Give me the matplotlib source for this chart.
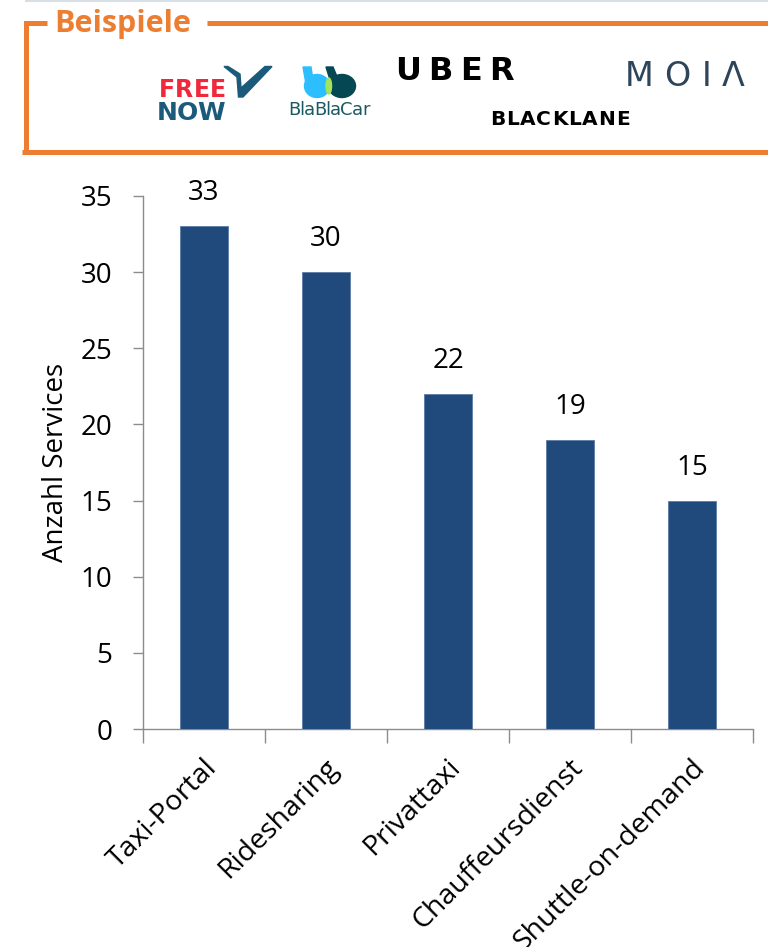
import matplotlib
matplotlib.use("Agg")
import matplotlib.pyplot as plt
from matplotlib.patches import Ellipse, Polygon

# Data
categories = ["Taxi-Portal", "Ridesharing", "Privattaxi", "Chauffeursdienst", "Shuttle-on-demand"]
services = [33, 30, 22, 19, 15]
y_ticks = [0, 5, 10, 15, 20, 25, 30, 35]
y_label = "Anzahl Services"
box_title = "Beispiele"

W, H = 768, 947
BAR = "#214A7C"
ORANGE = "#ED7D31"
FONT = ["Open Sans", "DejaVu Sans"]
LOGO = ["DejaVu Sans"]
FS = 20

fig = plt.figure(figsize=(W / 100, H / 100), dpi=100)
renderer = fig.canvas.get_renderer()

# Overlay in pixel coordinates for the "Beispiele" box
deco = fig.add_axes([0, 0, 1, 1])
deco.set_xlim(0, W)
deco.set_ylim(H, 0)
deco.axis("off")


def spaced_text(ax, x_left, x_right, y, s, **kw):
    """Place the characters of s one by one so they span x_left..x_right."""
    widths = []
    for ch in s:
        t = ax.text(0, 0, ch, **kw)
        bb = t.get_window_extent(renderer=renderer)
        widths.append(bb.width)
        t.remove()
    gap = (x_right - x_left - sum(widths)) / max(len(s) - 1, 1)
    x = x_left
    for ch, w in zip(s, widths):
        ax.text(x, y, ch, ha="left", va="center", **kw)
        x += w + gap


deco.plot([26, W], [1.2, 1.2], color="#D9DFE7", lw=1.5)
# Orange frame (open to the right)
deco.plot([25.5, 25.5, 47], [154, 22.5, 22.5], color=ORANGE, lw=3.6, solid_capstyle="butt",
          solid_joinstyle="miter")
deco.plot([207, W], [22.5, 22.5], color=ORANGE, lw=3.6, solid_capstyle="butt")
deco.plot([22, W], [152, 152], color=ORANGE, lw=3.6, solid_capstyle="butt")
deco.text(54, 24, box_title, color=ORANGE, fontsize=22, fontweight="bold",
          family=FONT, ha="left", va="center")

# FREE NOW
spaced_text(deco, 159, 226, 90, "FREE", color="#F0283C", fontsize=17, fontweight="bold",
            family=LOGO)
spaced_text(deco, 157, 225, 112.5, "NOW", color="#1B5A7A", fontsize=18, fontweight="bold",
            family=LOGO)
deco.add_patch(Polygon([[224, 66.5], [228, 66.5], [240, 74], [241, 88], [265, 66.5], [272, 66.5],
                        [243, 97], [238.5, 97], [237, 77]], closed=True, color="#1B5A7A"))

# BlaBlaCar
deco.add_patch(Polygon([[303, 67], [311, 67], [313, 80], [306, 84]], closed=True, color="#2DBEFF"))
deco.add_patch(Ellipse((317, 86), 25, 23, color="#2DBEFF"))
deco.add_patch(Polygon([[326, 67], [333, 67], [338, 79], [331, 83]], closed=True, color="#054752"))
deco.add_patch(Ellipse((342, 86), 27, 23, color="#054752"))
deco.add_patch(Ellipse((328.8, 86), 5.5, 16, color="#A4E35A"))
spaced_text(deco, 288, 370, 110, "BlaBlaCar", color="#1B5A65", fontsize=13,
            family=LOGO)

# UBER / MOIA / BLACKLANE
spaced_text(deco, 395, 514, 71, "UBER", color="black", fontsize=23, fontweight="bold",
            family=LOGO)
spaced_text(deco, 625, 745, 76, "MOI\u039b", color="#2D4459", fontsize=24,
            family=LOGO)
spaced_text(deco, 490, 630, 119, "BLACKLANE", color="black", fontsize=14.5, fontweight="bold",
            family=LOGO)

# Bar chart
x0, x1 = 143, 753
y0, ytop = 729, 196
ax = fig.add_axes([x0 / W, (H - y0) / H, (x1 - x0) / W, (y0 - ytop) / H])
xs = list(range(len(categories)))
ax.bar(xs, services, width=0.4, color=BAR, edgecolor="#5C7BA6", linewidth=0.6, zorder=3)
for xi, v in zip(xs, services):
    ax.text(xi, v + 1.25, str(v), ha="center", va="bottom", fontsize=FS, family=FONT)

ax.set_xlim(-0.5, len(categories) - 0.5)
ax.set_ylim(0, 35)
ax.set_yticks(y_ticks)
ax.set_yticklabels([str(t) for t in y_ticks], fontsize=FS, family=FONT)
ax.set_xticks([i - 0.5 for i in range(len(categories) + 1)])
ax.set_xticklabels([""] * (len(categories) + 1))
ax.tick_params(axis="x", direction="out", length=10, color="#8C8C8C", width=1)
ax.tick_params(axis="y", direction="out", length=7, color="#8C8C8C", width=1, pad=15)
for xi, c in zip(xs, categories):
    ax.text(xi - 0.01, -1.6, c, rotation=45, rotation_mode="anchor", ha="right", va="top",
            fontsize=20.5, family=FONT)

for s in ["top", "right"]:
    ax.spines[s].set_visible(False)
for s in ["left", "bottom"]:
    ax.spines[s].set_color("#8C8C8C")
    ax.spines[s].set_linewidth(1)
ax.set_ylabel(y_label, fontsize=FS, family=FONT, labelpad=8)

fig.savefig("out.png", dpi=100)
